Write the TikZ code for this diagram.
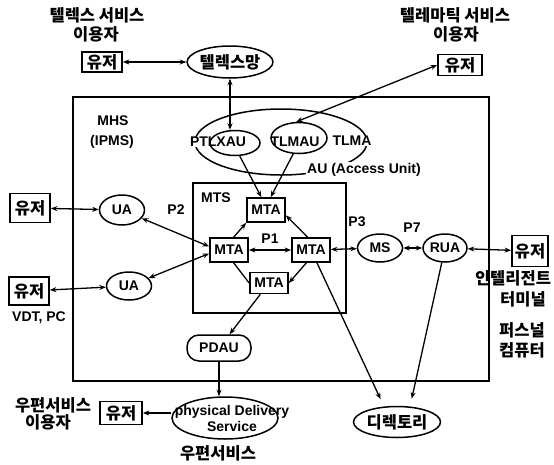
\documentclass[tikz,border=0pt]{standalone}
\usepackage{fontspec}
\setmainfont{Liberation Sans}
\newfontfamily\korfont{Noto Sans CJK KR}
\usetikzlibrary{arrows.meta,positioning,shapes.geometric}

\begin{document}
\begin{tikzpicture}[
        x=1pt, y=-1pt,
        line width=1.3pt,
        >={Stealth[length=6.5pt,width=5pt]},
        font=\bfseries\fontsize{14}{16}\selectfont,
        korean/.style={
            font=\korfont\bfseries\fontsize{16.5}{18}\selectfont,
            inner sep=0pt
        },
        userbox/.style={
            draw,
            line width=1.7pt,
            font=\korfont\bfseries\fontsize{16.5}{18}\selectfont,
            inner sep=1pt,
            minimum width=40pt,
            minimum height=24pt
        },
        mtabox/.style={
            draw,
            line width=1.7pt,
            inner sep=1pt,
            minimum width=38pt,
            minimum height=24pt
        },
        oval/.style={
            draw,
            ellipse,
            line width=1.5pt,
            inner sep=0pt
        },
        plabel/.style={
            inner sep=0pt
        },
        link/.style={<->},
        feed/.style={->}
    ]

        \useasboundingbox (0,0) rectangle (554,464);

        \draw (73,97) rectangle (489,381);
        \draw (193,183) rectangle (346,313);

        \node[korean] (telexcap) at (97,15) {텔렉스 서비스};
        \node[korean] (telexcap2) at (96,34) {이용자};
        \node[userbox, minimum height=20pt] (telexuser) at (102,62) {유저};
        \node[oval, minimum width=80pt, minimum height=32pt,
              font=\korfont\bfseries\fontsize{16.5}{18}\selectfont] (telexnet) at (230,62) {텔렉스망};

        \node[korean] (telemcap) at (455,15) {텔레마틱 서비스};
        \node[korean] (telemcap2) at (456,34) {이용자};
        \node[userbox, minimum width=44pt, minimum height=21pt] (telemuser) at (460,65) {유저};

        \node[plabel] (mhs) at (113,121) {MHS};
        \node[plabel] (ipms) at (112,142) {(IPMS)};

        \node[oval, minimum width=172pt, minimum height=66pt] (au) at (281,142) {};
        \node[plabel, fill=white, inner sep=0.5pt] (xautxt) at (218,142) {PTLXAU};
        \node[plabel] (tlmautxt) at (295,142) {TLMAU};
        \node[plabel, fill=white, inner sep=0.5pt] (tlmatxt) at (352,141) {TLMA};
        \node[oval, minimum width=50pt, minimum height=25pt] (xau) at (235,143) {};
        \node[oval, minimum width=56pt, minimum height=31pt] (tlmau) at (299,138) {};
        \node[plabel, fill=white, inner sep=1pt] (aulbl) at (364,170) {AU (Access Unit)};

        \node[plabel] (mts) at (216,198) {MTS};
        \node[mtabox] (mtatop) at (266,210) {MTA};
        \node[mtabox] (mtaleft) at (229,250) {MTA};
        \node[mtabox] (mtaright) at (311,250) {MTA};
        \node[mtabox, minimum height=21pt] (mtabot) at (269,283) {MTA};
        \node[plabel] (p1) at (270,239) {P1};

        \node[userbox, minimum height=29pt] (user1) at (30,208) {유저};
        \node[oval, minimum width=45pt, minimum height=30pt] (ua1) at (122,210) {UA};
        \node[plabel] (p2) at (176,210) {P2};
        \node[userbox, minimum height=28pt] (user2) at (29,291) {유저};
        \node[plabel] (vdt) at (39,318) {VDT, PC};
        \node[oval, minimum width=45pt, minimum height=28pt] (ua2) at (129,286) {UA};

        \node[oval, minimum width=45pt, minimum height=28pt] (ms) at (380,248) {MS};
        \node[oval, minimum width=44pt, minimum height=28pt] (rua) at (445,248) {RUA};
        \node[plabel] (p3) at (357,222) {P3};
        \node[plabel] (p7) at (412,228) {P7};
        \node[userbox, minimum width=36pt, minimum height=31pt] (user3) at (530,251) {유저};
        \node[korean] (intcap) at (513,278) {인텔리전트};
        \node[korean] (intcap2) at (523,299) {터미널};
        \node[korean] (pccap) at (522,330) {퍼스널};
        \node[korean] (pccap2) at (522,350) {컴퓨터};

        \node[draw, line width=1.5pt, rounded corners=12pt,
              minimum width=64pt, minimum height=26pt] (pdau) at (219,348) {PDAU};
        \node[oval, minimum width=106pt, minimum height=42pt] (pds) at (225,418) {};
        \node[plabel, align=center, font=\bfseries\fontsize{14}{16}\selectfont]
            (pdstxt) at (232,418) {physical Delivery\\Service};
        \node[userbox, minimum width=42pt, minimum height=23pt] (postuser) at (121,413) {유저};
        \node[korean] (postcap) at (53,405) {우편서비스};
        \node[korean] (postcap2) at (48,422) {이용자};
        \node[korean] (postsvc) at (218,453) {우편서비스};
        \node[oval, minimum width=87pt, minimum height=31pt,
              font=\korfont\bfseries\fontsize{16.5}{18}\selectfont] (dir) at (397,422) {디렉토리};

        \draw[link] (telexuser) -- (telexnet);
        \draw[link] (telexnet.south) -- (telexnet.south |- xau.north);
        \draw[link] (telemuser.west) -- (tlmau.100);
        \draw[feed] (xau.290) -- (mtatop.110);
        \draw[feed] (tlmau.250) -- (mtatop.70);
        \draw[link] (user1) -- (ua1);
        \draw[link] (ua1) -- (mtaleft.170);
        \draw[link] (user2) -- (ua2);
        \draw[link] (ua2) -- (mtaleft.190);
        \draw[link] (mtaleft) -- (mtaright);
        \draw[feed] (mtaleft.70) -- (mtatop.south west);
        \draw[feed] (mtaright.105) -- (mtatop.-15);
        \draw (mtaleft.290) -- (mtabot.west);
        \draw[feed] (mtaright.250) -- (mtabot.east);
        \draw[link] (mtaright) -- (ms);
        \draw[link] (ms) -- (rua);
        \draw[link] (rua) -- (user3);
        \draw[feed, shorten >=8pt] (mtaright) -- (dir.130);
        \draw[feed, shorten >=8pt] (rua) -- (dir.50);
        \draw[feed] (mtabot) -- (pdau);
        \draw[feed] (pdau.south) -- (pdau.south |- pds.north);
        \draw[feed] (pds.west |- postuser.east) -- (postuser.east);

    \end{tikzpicture}
\end{document}
